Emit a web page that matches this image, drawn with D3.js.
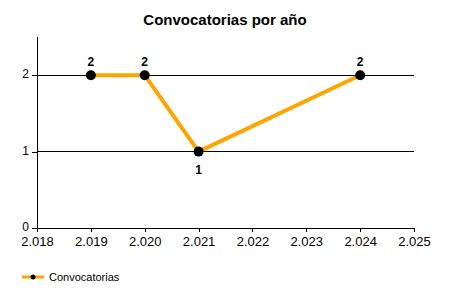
<!DOCTYPE html>
<html><head><meta charset="utf-8">
<script src="https://cdn.jsdelivr.net/npm/d3@7"></script>
<style>body{margin:0;background:#fff}svg{display:block}</style>
</head><body>
<script>
const title = "Convocatorias por año";
const seriesName = "Convocatorias";
const years = [2019, 2020, 2021, 2024];
const values = [2, 2, 1, 2];
const xTicks = [2018, 2019, 2020, 2021, 2022, 2023, 2024, 2025];
const xTickLabels = ["2.018","2.019","2.020","2.021","2.022","2.023","2.024","2.025"];
const yTicks = [0, 1, 2];

const W = 450, H = 300;
const svg = d3.select("body").append("svg").attr("width", W).attr("height", H)
  .style("font-family", "'Liberation Sans', Arial, sans-serif");

const x = d3.scaleLinear().domain([2018, 2025]).range([37, 414]);
const y = d3.scaleLinear().domain([0, 2.5]).range([228, 37]);

svg.append("text").attr("x", 225).attr("y", 25).attr("text-anchor", "middle")
  .attr("font-size", 15).attr("font-weight", "bold").text(title);

// gridlines
svg.append("g").selectAll("line").data(yTicks.filter(d => d > 0)).join("line")
  .attr("x1", x(2018)).attr("x2", x(2025)).attr("y1", d => y(d)).attr("y2", d => y(d))
  .attr("stroke", "#000").attr("stroke-width", 1).attr("shape-rendering", "crispEdges");

const yAxis = d3.axisLeft(y).tickValues(yTicks).tickSize(5).tickPadding(3).tickFormat(d3.format("d"));
const gy = svg.append("g").attr("transform", `translate(${x(2018)},0)`).call(yAxis);
gy.select(".domain").attr("d", `M0,${y(2.5)}V${y(0)}`);
gy.selectAll("text").attr("dy", "0.2em");

const xAxis = d3.axisBottom(x).tickValues(xTicks).tickSize(4).tickPadding(5)
  .tickFormat((d, i) => xTickLabels[i]);
const gx = svg.append("g").attr("transform", `translate(0,${y(0)})`).call(xAxis);
gx.select(".domain").attr("d", `M${x(2018)},0H${x(2025)}`);

[gx, gy].forEach(g => {
  g.selectAll("text").attr("font-size", 13).attr("fill", "#000").attr("font-family", "'Liberation Sans', Arial, sans-serif");
  g.selectAll("line,path").attr("stroke", "#000").attr("shape-rendering", "crispEdges");
});
gy.selectAll("text").attr("font-size", 12);

const pts = years.map((yr, i) => ({yr, v: values[i]}));
svg.append("path").datum(pts)
  .attr("d", d3.line().x(d => x(d.yr)).y(d => y(d.v)))
  .attr("fill", "none").attr("stroke", "#FFA500").attr("stroke-width", 4).attr("stroke-linejoin", "round");

svg.append("g").selectAll("circle").data(pts).join("circle")
  .attr("cx", d => x(d.yr)).attr("cy", d => y(d.v)).attr("r", 5).attr("fill", "#000");

svg.append("g").selectAll("text").data(pts).join("text")
  .attr("x", d => x(d.yr))
  .attr("y", (d, i) => {
    const prev = i > 0 ? pts[i-1].v : d.v, next = i < pts.length-1 ? pts[i+1].v : d.v;
    const below = d.v < prev && d.v < next;
    return below ? y(d.v) + 22 : y(d.v) - 9;
  })
  .attr("text-anchor", "middle").attr("font-size", 12).attr("font-weight", "bold").text(d => d.v);

// legend
const lg = svg.append("g");
lg.append("line").attr("x1", 22).attr("x2", 44).attr("y1", 277).attr("y2", 277)
  .attr("stroke", "#FFA500").attr("stroke-width", 3);
lg.append("circle").attr("cx", 33).attr("cy", 277).attr("r", 2.5).attr("fill", "#000");
lg.append("text").attr("x", 49).attr("y", 281).attr("font-size", 11).text(seriesName);
</script>
</body></html>
